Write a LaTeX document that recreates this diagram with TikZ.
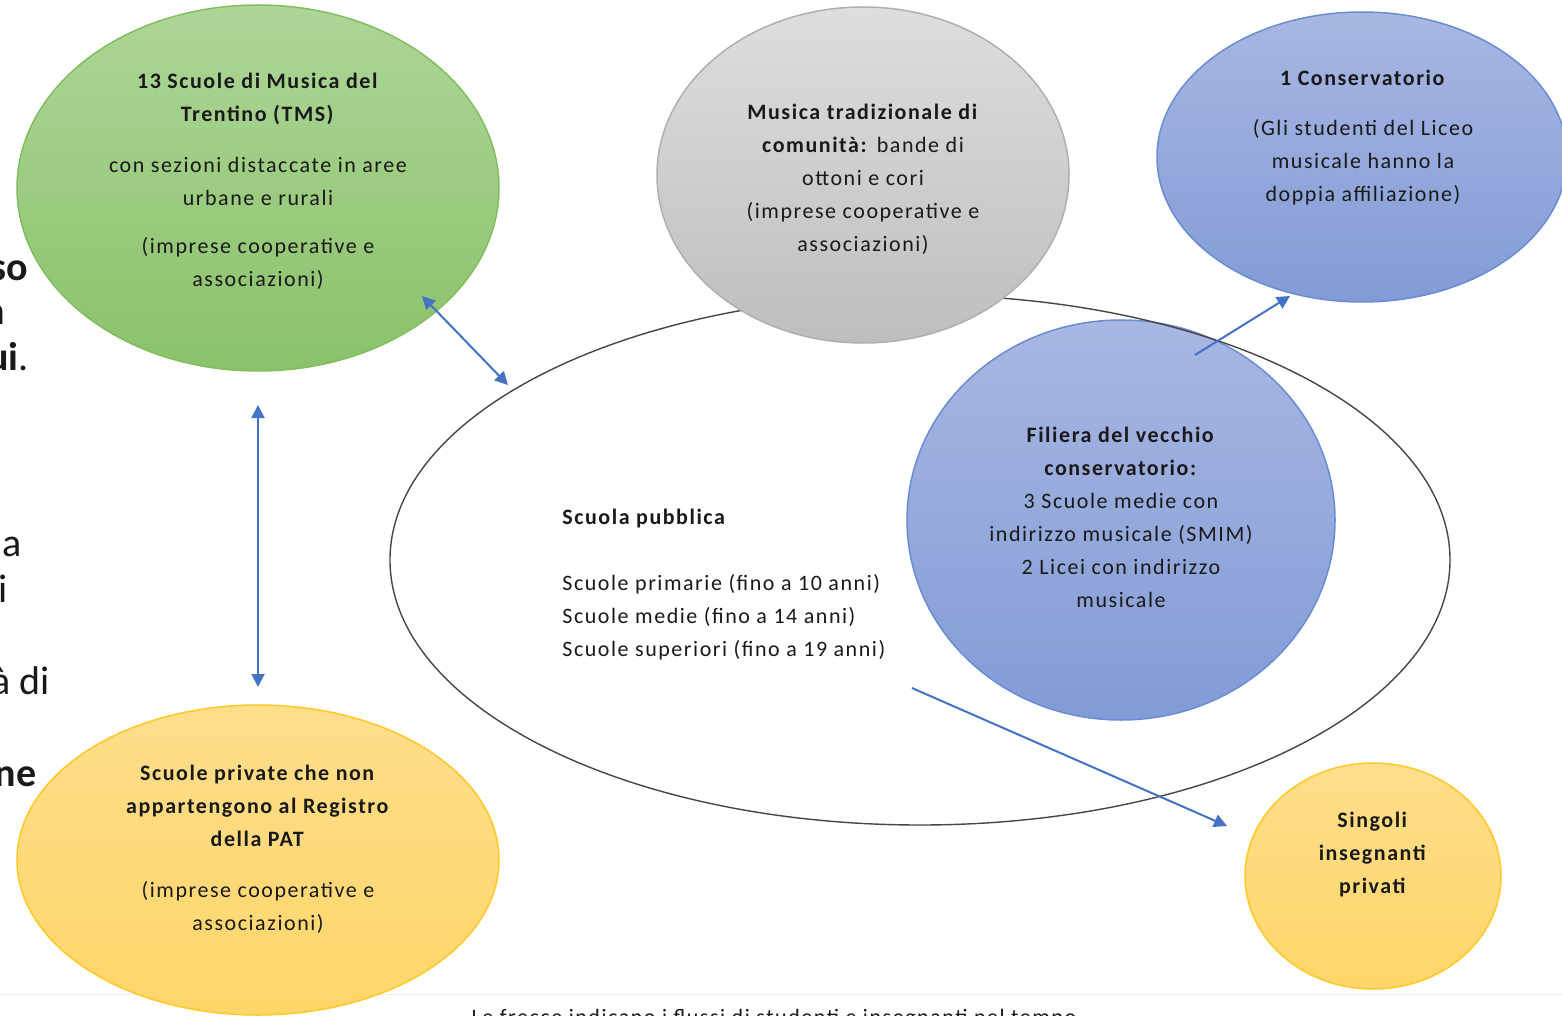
\documentclass[tikz,border=0pt]{standalone}
\usepackage{fontspec}
\setmainfont{Carlito}[LetterSpace=7]
\newfontfamily\fragfont{Carlito}
\usetikzlibrary{shapes.geometric,arrows.meta}
\definecolor{txt}{RGB}{25,25,25}
\definecolor{arrowblue}{RGB}{68,114,196}
\definecolor{greenTop}{RGB}{174,213,152}
\definecolor{greenBot}{RGB}{138,194,106}
\definecolor{greenEdge}{RGB}{130,190,95}
\definecolor{grayTop}{RGB}{222,222,222}
\definecolor{grayBot}{RGB}{190,190,190}
\definecolor{grayEdge}{RGB}{175,175,175}
\definecolor{blueTop}{RGB}{168,183,226}
\definecolor{blueBot}{RGB}{130,155,214}
\definecolor{blueEdge}{RGB}{105,140,210}
\definecolor{yelTop}{RGB}{255,222,140}
\definecolor{yelBot}{RGB}{255,214,105}
\definecolor{yelEdge}{RGB}{255,200,40}
\definecolor{bigEdge}{RGB}{70,70,70}
\tikzset{
  blob/.style={ellipse, inner sep=0pt, line width=0.75pt},
  greenblob/.style={blob, draw=greenEdge, top color=greenTop, bottom color=greenBot},
  grayblob/.style={blob, draw=grayEdge, top color=grayTop, bottom color=grayBot},
  blueblob/.style={blob, draw=blueEdge, top color=blueTop, bottom color=blueBot},
  yelblob/.style={blob, draw=yelEdge, top color=yelTop, bottom color=yelBot},
  label/.style={text=txt, align=center, inner sep=0pt, font=\fontsize{11}{16.5}\selectfont},
  frag/.style={text=txt, inner sep=0pt, font=\fragfont\fontsize{20}{24}\selectfont},
  flow/.style={draw=arrowblue, line width=1pt, -{Triangle[width=6.5pt,length=6.5pt]}},
  flowboth/.style={draw=arrowblue, line width=1pt, {Triangle[width=6.5pt,length=6.5pt]}-{Triangle[width=6.5pt,length=6.5pt]}}
}
\begin{document}
\begin{tikzpicture}[x=0.5pt,y=-0.5pt]
\useasboundingbox (0,0) rectangle (1562,1016);
\clip (0,0) rectangle (1562,1016);
\fill[white] (0,0) rectangle (1562,1016);
\draw[black!7, line width=0.5pt] (0,994) -- (1562,994);

% ellipses
\node[greenblob, minimum width=241pt, minimum height=183pt] (tms) at (258,188) {};
\node[yelblob, minimum width=241pt, minimum height=155pt] (priv) at (258,860) {};
\node[yelblob, minimum width=128pt, minimum height=113pt] (sing) at (1373,876) {};
\node[blueblob, minimum width=205pt, minimum height=145pt] (cons) at (1362,157) {};
\node[blueblob, minimum width=214pt, minimum height=200pt] (fil) at (1121,520) {};
\node[ellipse, inner sep=0pt, draw=bigEdge, line width=0.7pt, minimum width=530pt, minimum height=265pt] (pub) at (920,560) {};
\node[grayblob, minimum width=206pt, minimum height=168pt] (trad) at (863,175) {};

% texts
\node[label] (tmsT) at (258,181) {\textbf{13 Scuole di Musica del}\\\textbf{Trentino (TMS)}\\[9pt]con sezioni distaccate in aree\\urbane e rurali\\[7.5pt](imprese cooperative e\\associazioni)};
\node[label] (tradT) at (863,179) {\textbf{Musica tradizionale di}\\\textbf{comunità:} bande di\\ottoni e cori\\(imprese cooperative e\\associazioni)};
\node[label] (consT) at (1363,138) {\textbf{1 Conservatorio}\\[8.5pt](Gli studenti del Liceo\\musicale hanno la\\doppia affiliazione)};
\node[label] (filT) at (1121,517) {\textbf{Filiera del vecchio}\\\textbf{conservatorio:}\\3 Scuole medie con\\indirizzo musicale (SMIM)\\2 Licei con indirizzo\\musicale};
\node[label, align=left, anchor=west] (pubT) at (562,585) {\textbf{Scuola pubblica}\\[16.5pt]Scuole primarie (fino a 10 anni)\\Scuole medie (fino a 14 anni)\\Scuole superiori (fino a 19 anni)};
\node[label] (privT) at (258,849) {\textbf{Scuole private che non}\\\textbf{appartengono al Registro}\\\textbf{della PAT}\\[9pt](imprese cooperative e\\associazioni)};
\node[label] (singT) at (1373,855) {\textbf{Singoli}\\\textbf{insegnanti}\\\textbf{privati}};

% arrows
\coordinate (a1s) at (422,296);
\coordinate (a1e) at (508,385);
\coordinate (a2s) at (258,405);
\coordinate (a2e) at (258,687);
\coordinate (a3s) at (1195,355);
\coordinate (a3e) at (1290,296);
\coordinate (a4s) at (912,688);
\coordinate (a4e) at (1227,826);
\draw[flowboth] (a1s) -- (a1e);
\draw[flowboth] (a2s) -- (a2e);
\draw[flow] (a3s) -- (a3e);
\draw[flow] (a4s) -- (a4e);

% cut-off text on the left
\node[frag, anchor=base east] (f1) at (28,280) {\textbf{so}};
\node[frag, anchor=base east] (f2) at (5,324) {\textbf{n}};
\node[frag, anchor=base east] (f3) at (29,370) {\textbf{ui}.};
\node[frag, anchor=base east] (f4) at (22,556) {a};
\node[frag, anchor=base east] (f5) at (8,602) {i};
\node[frag, anchor=base east] (f6) at (50,694) {à di};
\node[frag, anchor=base east] (f7) at (37,786) {\textbf{ne}};

% cut-off caption
\node[label, anchor=base] (cap) at (774,1024) {Le frecce indicano i flussi di studenti e insegnanti nel tempo};
\end{tikzpicture}
\end{document}
